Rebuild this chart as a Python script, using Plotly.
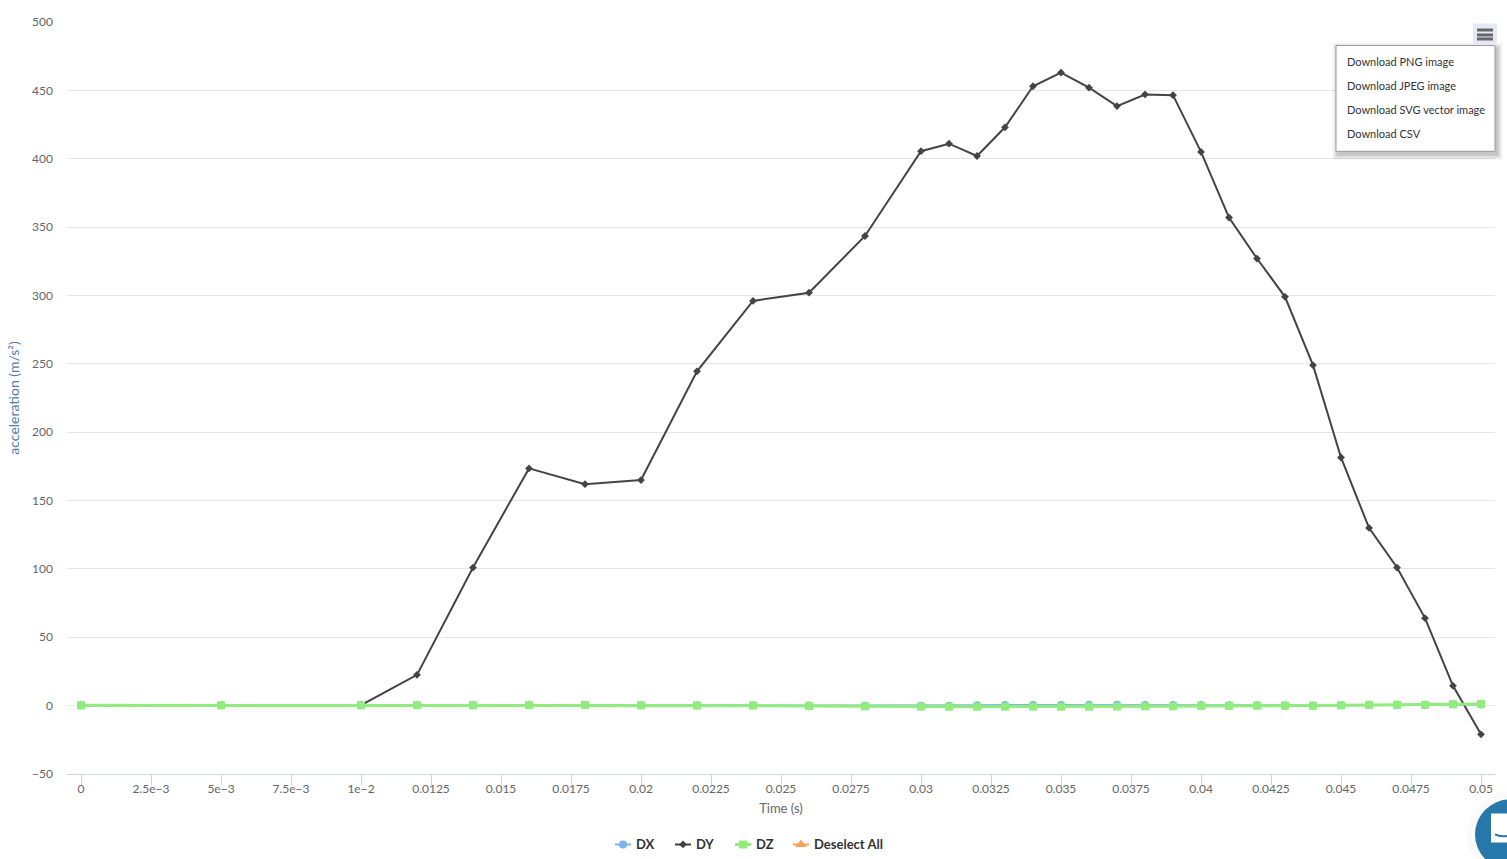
# Acceleration vs time chart, with the export menu left open

import plotly.graph_objs as go

W, H = 1507, 859
LEFT, RIGHT, TOP, BOTTOM = 67, 1495, 21.5, 774.5

time_s = [0, 0.005, 0.01, 0.012, 0.014, 0.016, 0.018, 0.02, 0.022, 0.024, 0.026,
          0.028, 0.03, 0.031, 0.032, 0.033, 0.034, 0.035, 0.036, 0.037, 0.038,
          0.039, 0.04, 0.041, 0.042, 0.043, 0.044, 0.045, 0.046, 0.047, 0.048,
          0.049, 0.05]
dx = [0.2, 0.3, 0.2, 0.3, 0.2, 0.4, 0.5, 0.3, 0.2, 0.2, 0.1,
      0, 0, 0, 0.3, 0.4, 0.4, 0.4, 0.6, 0.7, 0.5,
      0.4, 0.4, 0.2, 0.3, 0.2, 0.1, 0.2, 0.6, 0.7, 0.7,
      1.0, 0.9]
dy = [0.2, 0.2, 0.3, 22.5, 101, 173.5, 162, 165, 244.5, 296, 302,
      343.5, 405.5, 411, 402, 423, 453, 463, 452, 438.5, 447,
      446.5, 405, 357, 327, 299, 249, 181.5, 130, 101, 64,
      14.5, -21]
dz = [0.2, 0.2, 0.2, 0.3, 0.2, 0.3, 0.5, 0.2, 0, 0, -0.2,
      -0.5, -0.7, -0.8, -0.8, -0.7, -0.7, -0.8, -0.7, -0.7, -0.5,
      -0.5, -0.2, -0.2, -0.1, -0.1, -0.1, 0.2, 0.5, 0.6, 0.6,
      1.0, 1.2]

x_ticks = [0, 0.0025, 0.005, 0.0075, 0.01, 0.0125, 0.015, 0.0175, 0.02, 0.0225,
           0.025, 0.0275, 0.03, 0.0325, 0.035, 0.0375, 0.04, 0.0425, 0.045,
           0.0475, 0.05]
x_labels = ['0', '2.5e\u22123', '5e\u22123', '7.5e\u22123', '1e\u22122', '0.0125',
            '0.015', '0.0175', '0.02', '0.0225', '0.025', '0.0275', '0.03',
            '0.0325', '0.035', '0.0375', '0.04', '0.0425', '0.045', '0.0475', '0.05']
y_ticks = [-50, 0, 50, 100, 150, 200, 250, 300, 350, 400, 450, 500]
y_labels = ['\u221250', '0', '50', '100', '150', '200', '250', '300', '350', '400',
            '450', '500']
menu_items = ['Download PNG image', 'Download JPEG image',
              'Download SVG vector image', 'Download CSV']

FONT = 'Lato'


def px(x):
    # page pixel to paper fraction
    return (x - LEFT) / (RIGHT - LEFT)


def py(y):
    return 1 - (y - TOP) / (BOTTOM - TOP)


def rect(x0, y0, x1, y1, fill, line=None, opacity=1):
    return dict(type='rect', xref='paper', yref='paper', layer='above',
                x0=px(x0), x1=px(x1), y0=py(y0), y1=py(y1), fillcolor=fill,
                opacity=opacity, line=dict(color=line or fill, width=1 if line else 0))


def series(name, y, color, symbol, size, width=2):
    return go.Scatter(x=time_s, y=y, name=name, mode='lines+markers',
                      line=dict(color=color, width=width),
                      marker=dict(color=color, symbol=symbol, size=size))


traces = [
    series('DX', dx, '#7cb5ec', 'circle', 8),
    series('DY', dy, '#434348', 'diamond', 6),
    series('DZ', dz, '#90ed7d', 'square', 8, width=3),
    go.Scatter(x=[None], y=[None], name='Deselect All', mode='lines+markers',
               line=dict(color='#f7a35c', width=2),
               marker=dict(color='#f7a35c', symbol='triangle-up', size=10)),
]

shapes = []
# menu shadow
for grow, alpha in [(6, 0.02), (5, 0.03), (4, 0.04), (3, 0.04), (2, 0.05), (1, 0.06)]:
    shapes.append(rect(1336 - grow + 2, 45 - grow + 3, 1495 + grow + 2, 151 + grow + 3,
                       '#000000', opacity=alpha))
shapes.append(rect(1336, 45, 1495, 151, '#ffffff', line='#999999'))
# menu button
shapes.append(rect(1473, 23, 1497, 44, '#e6e9f5'))
for top in (28, 33, 37):
    shapes.append(rect(1477, top, 1493, top + 3, '#666666'))
# chat bubble in the corner
shapes.append(dict(type='circle', xref='paper', yref='paper', layer='above',
                   x0=px(1467), x1=px(1553), y0=py(792), y1=py(878),
                   fillcolor='#000000', opacity=0.02, line=dict(width=0)))
shapes.append(dict(type='circle', xref='paper', yref='paper', layer='above',
                   x0=px(1475), x1=px(1545), y0=py(800), y1=py(870),
                   fillcolor='#2678ab', line=dict(width=0)))
shapes.append(rect(1491, 814, 1530, 843, '#ffffff'))
shapes.append(dict(type='path', xref='paper', yref='paper', layer='above',
                   path='M %f %f Q %f %f %f %f' % (px(1495), py(835), px(1501), py(838),
                                                   px(1510), py(836)),
                   line=dict(color='#2678ab', width=2)))

annotations = [
    dict(text=label, xref='paper', yref='paper', x=px(1347), y=py(61.5 + i * 24),
         xanchor='left', yanchor='middle', showarrow=False, xshift=-2,
         font=dict(family=FONT, size=11, color='#333333'))
    for i, label in enumerate(menu_items)
]

layout = dict(
    width=W, height=H, autosize=False,
    margin=dict(l=LEFT, r=W - RIGHT, t=TOP, b=H - BOTTOM, pad=0, autoexpand=False),
    paper_bgcolor='#ffffff', plot_bgcolor='#ffffff',
    font=dict(family=FONT, size=12, color='#666666'),
    xaxis=dict(range=[-0.0005, 0.0505], tickvals=x_ticks, ticktext=x_labels,
               ticks='outside', ticklen=10, tickwidth=1, tickcolor='#ccd6eb',
               showline=True, linecolor='#ccd6eb', linewidth=1, showgrid=False,
               zeroline=False, tickangle=0, ticklabelstandoff=-6,
               title=dict(text='Time (s)', standoff=8,
                          font=dict(family=FONT, size=13, color='#666666'))),
    yaxis=dict(range=[-50, 500], tickvals=y_ticks, ticktext=y_labels,
               gridcolor='#e6e6e6', gridwidth=1, zeroline=False, showline=False,
               ticks='', ticklabelstandoff=13,
               title=dict(text='acceleration (m/s\u00b2)', standoff=9,
                          font=dict(family=FONT, size=14, color='#4f7ca8'))),
    legend=dict(orientation='h', xanchor='center', x=px(755), yanchor='middle',
                y=py(846), font=dict(family=FONT, size=13, color='#333333', weight=700),
                itemclick=False, itemdoubleclick=False),
    shapes=shapes, annotations=annotations, hovermode='closest', showlegend=True,
)

# page margin off, and the legend keys shortened to the reference's 16px
post = """
document.body.style.margin='0';document.body.style.overflow='hidden';
var starts=[0,60,120,178];
document.querySelectorAll('.legend .traces').forEach(function(t,i){
  t.setAttribute('transform','translate('+starts[i]+',14)');
  t.querySelectorAll('.legendlines path, .legendfill path').forEach(function(p){p.setAttribute('d','M12,0h16');});
  t.querySelectorAll('.legendtext').forEach(function(x){x.setAttribute('x','33');});
});
"""

fig = go.Figure(data=traces, layout=layout)
fig.write_html("out.html", config=dict(displayModeBar=False), post_script=post)
